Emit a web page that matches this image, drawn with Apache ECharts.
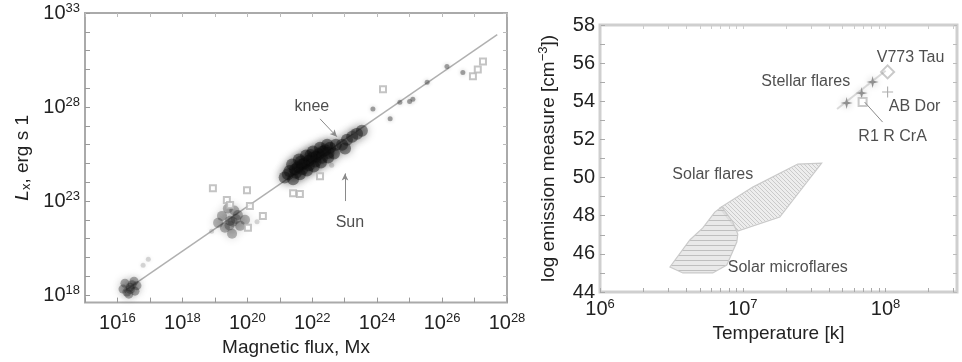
<!DOCTYPE html>
<html><head><meta charset="utf-8">
<script src="https://cdn.jsdelivr.net/npm/echarts@6/dist/echarts.min.js"></script>
<style>html,body{margin:0;padding:0;background:#fff}#c{width:962px;height:362px}</style>
</head><body><div id="c"></div>
<script>
// ---------- Left panel: log10 magnetic flux [Mx] vs log10 Lx [erg/s] ----------
const fluxTicks = [15,16,17,18,19,20,21,22,23,24,25,26,27,28];
const fluxLabels = [16,18,20,22,24,26,28];
const lumTicks = [18,19,20,21,22,23,24,25,26,27,28,29,30,31,32,33];
const lumLabels = [18,23,28,33];
const fitLine = [[16.2,18.2],[27.7,31.85]];
const brightPoints = [[16.39,18.42],[16.23,18.63],[16.54,18.21],[16.29,18.16],[16.51,18.74],[16.17,18.32],[16.45,18.55],[16.35,18.05],[16.60,18.50],[16.40,18.30]];
const faintPoints = [[16.79,19.58],[16.95,19.9],[18.9,21.4],[20.3,21.9],[22.6,24.9]];
const quietSun = [[19.47,21.95],[19.22,22.21],[19.71,22.26],[19.31,21.58],[19.78,21.68],[19.53,21.26],[19.10,21.84],[19.93,22.0],[19.6,22.5],[19.4,22.6],[19.55,21.9],[19.65,22.05],[19.45,21.7]];
const activeRegions = [
  [21.25,24.42],[21.47,24.68],[21.69,24.95],[21.90,25.16],[22.12,25.37],[22.33,25.63],[22.55,25.84],[22.73,26.0],
  [21.38,24.95],[21.59,25.21],[21.81,25.42],[22.02,25.63],[22.24,25.84],[22.46,26.0],
  [21.41,24.16],[21.62,24.42],[21.84,24.63],[22.05,24.84],[22.27,25.05],[22.49,25.32],[22.67,25.53],
  [21.15,24.25],[21.55,24.8],[21.75,25.0],[22.0,25.3],[22.2,25.5],[22.4,25.7],
  [21.3,24.6],[21.5,24.5],[21.7,24.7],[21.9,24.9],[22.1,25.1],[22.3,25.3],[22.5,25.55],[21.65,25.1],[21.95,25.45],
  [22.92,26.0],[23.07,26.26],[23.23,26.42],[23.38,26.58],[23.53,26.74],[23.01,25.79]
];
const openSquares = [[18.94,23.68],[19.99,23.58],[19.37,23.05],[20.08,22.74],[20.48,22.2],[20.02,21.58],[19.47,22.79],[21.41,23.42],[21.62,23.37],[22.24,24.32],[26.95,29.63],[27.26,30.42],[27.1,30.0],[24.18,28.95]];
const starPoints = [[24.7,28.26],[25.1,28.42],[25.0,28.3],[24.4,27.37],[25.54,29.32],[26.15,30.16],[23.87,27.9],[23.26,26.68],[26.64,29.84]];
const kneeArrow = [[22.24,27.37],[22.76,26.42]];
const sunArrow = [[23.01,23.0],[23.01,24.47]];
const leftNotes = [{name:'knee', value:[21.99,28.0]},{name:'Sun', value:[23.16,21.84]}];

// ---------- Right panel: log10 T [K] vs log EM [cm^-3] ----------
const tempTicks = [6,6.301,6.477,6.602,6.699,6.778,6.845,6.903,6.954,7,7.301,7.477,7.602,7.699,7.778,7.845,7.903,7.954,8,8.301,8.477];
const tempLabels = [6,7,8];
const emTicks = [44,45,46,47,48,49,50,51,52,53,54,55,56,57,58];
const emLabels = [44,46,48,50,52,54,56,58];
const solarFlares = [[6.839,48.40],[7.070,49.50],[7.385,50.71],[7.552,50.76],[7.259,47.93],[6.965,47.20]];
const solarMicroflares = [[6.853,48.46],[6.930,47.67],[6.965,47.04],[6.958,46.62],[6.888,45.41],[6.790,45.0],[6.580,45.0],[6.490,45.31],[6.629,46.73],[6.720,47.36],[6.804,48.19]];
const stellarFlares = [[7.727,53.91],[7.832,54.43],[7.909,55.01]];
const v773Tau = [[8.014,55.54]];
const abDor = [[8.014,54.49]];
const r1RCrA = [[7.839,53.96]];
const rcraLine = [[7.853,53.96],[7.979,52.91]];
const stellarTrend = [[7.66,53.6],[8.0,55.6]];
const rightNotes = [{name:'V773 Tau', value:[8.175,56.27]},{name:'Stellar flares', value:[7.441,55.01]},{name:'AB Dor', value:[8.203,53.70]},{name:'R1 R CrA', value:[8.049,52.13]},{name:'Solar flares', value:[6.790,50.13]},{name:'Solar microflares', value:[7.315,45.26]}];

function hatch(kind){
  const c=document.createElement('canvas');
  const s = kind==='diag'?4:5;
  c.width=s;c.height=s;
  const g=c.getContext('2d');
  g.fillStyle = kind==='diag' ? 'rgba(232,232,232,0.8)' : 'rgba(226,226,226,0.75)';
  g.fillRect(0,0,s,s);
  g.strokeStyle = kind==='diag' ? '#c2c2c2' : '#b5b5b5'; g.lineWidth=0.8;
  g.beginPath();
  if(kind==='diag'){g.moveTo(0,0);g.lineTo(s,s);g.moveTo(-1,s-1);g.lineTo(1,s+1);g.moveTo(s-1,-1);g.lineTo(s+1,1);}
  else {g.moveTo(0,0.5);g.lineTo(s,0.5);}
  g.stroke();
  return c;
}
const diagPat = hatch('diag'), horPat = hatch('hor');

const FONT = "'Liberation Sans', Arial, Helvetica, sans-serif";
const TXT = '#222';
const supRich = {s:{fontSize:13, color:TXT, fontFamily:FONT, padding:[0,0,10,0]}};
const pow = v => '10{s|' + v + '}';

function polySeries(arr, pat, z){
  return {type:'custom', xAxisIndex:2, yAxisIndex:2, data:arr, z:z, silent:true,
    renderItem:(p,api)=> p.dataIndex!==0 ? null : ({type:'polygon', shape:{points:arr.map(d=>api.coord(d))},
      style:{fill:{image:pat, repeat:'repeat'}, stroke:'#cacaca', lineWidth:1.2}})};
}

const chart = echarts.init(document.getElementById('c'), null, {renderer:'canvas'});
chart.setOption({
  animation:false,
  textStyle:{fontFamily:FONT, color:TXT},
  grid:[
    {left:85, top:13, width:422, height:293, show:true, borderColor:'#aaa', borderWidth:2, backgroundColor:'#fff'},
    {left:600, top:25, width:357, height:267, show:true, borderColor:'#cfcfcf', borderWidth:3, backgroundColor:'#fff'}
  ],
  xAxis:[
    {gridIndex:0, type:'value', min:15, max:28, axisLine:{show:false}, splitLine:{show:false},
     axisTick:{inside:true, length:5, customValues:fluxTicks, lineStyle:{color:'#999'}},
     axisLabel:{customValues:fluxLabels, formatter:pow, rich:supRich, fontSize:20, color:TXT, margin:9},
     name:'Magnetic flux, Mx', nameLocation:'middle', nameGap:30, nameTextStyle:{fontSize:19, color:TXT}},
    {gridIndex:0, type:'value', position:'top', min:15, max:28, axisLine:{show:false}, splitLine:{show:false},
     axisTick:{inside:true, length:4, customValues:fluxTicks, lineStyle:{color:'#bbb'}}, axisLabel:{show:false}},
    {gridIndex:1, type:'value', min:6, max:8.5, axisLine:{show:false}, splitLine:{show:false},
     axisTick:{inside:true, length:4, customValues:tempTicks, lineStyle:{color:'#aaa'}},
     axisLabel:{customValues:tempLabels, formatter:pow, rich:supRich, fontSize:20, color:TXT, margin:6},
     name:'Temperature [k]', nameLocation:'middle', nameGap:30, nameTextStyle:{fontSize:19, color:TXT}},
    {gridIndex:1, type:'value', position:'top', min:6, max:8.5, axisLine:{show:false}, splitLine:{show:false},
     axisTick:{inside:true, length:4, customValues:tempTicks, lineStyle:{color:'#ccc'}}, axisLabel:{show:false}}
  ],
  yAxis:[
    {gridIndex:0, type:'value', min:17.6, max:33, axisLine:{show:false}, splitLine:{show:false},
     axisTick:{inside:true, length:5, customValues:lumTicks, lineStyle:{color:'#999'}},
     axisLabel:{customValues:lumLabels, formatter:pow, rich:supRich, fontSize:20, color:TXT, margin:5},
     name:'{i|L}{x|x}, erg s 1', nameLocation:'middle', nameGap:52,
     nameTextStyle:{fontSize:19, color:TXT, rich:{i:{fontStyle:'italic', fontSize:19, color:TXT, fontFamily:FONT}, x:{fontSize:13, color:TXT, fontFamily:FONT, padding:[8,0,0,0]}}}},
    {gridIndex:0, type:'value', position:'right', min:17.6, max:33, axisLine:{show:false}, splitLine:{show:false},
     axisTick:{inside:true, length:4, customValues:lumTicks, lineStyle:{color:'#bbb'}}, axisLabel:{show:false}},
    {gridIndex:1, type:'value', min:44, max:58, interval:2, axisLine:{show:false}, splitLine:{show:false},
     axisTick:{inside:true, length:5, customValues:emTicks, lineStyle:{color:'#aaa'}},
     axisLabel:{customValues:emLabels, fontSize:20, color:TXT, margin:5},
     name:'log emission measure [cm{s|\u22123}])', nameLocation:'middle', nameGap:40,
     nameTextStyle:{fontSize:19, color:TXT, rich:{s:{fontSize:13, color:TXT, fontFamily:FONT, padding:[0,0,10,0]}}}},
    {gridIndex:1, type:'value', position:'right', min:44, max:58, axisLine:{show:false}, splitLine:{show:false},
     axisTick:{inside:true, length:4, customValues:emTicks, lineStyle:{color:'#bbb'}}, axisLabel:{show:false}}
  ],
  series:[
    {type:'line', xAxisIndex:0, yAxisIndex:0, data:fitLine, symbol:'none', silent:true,
     lineStyle:{color:'#b0b0b0', width:1.5}, z:1},
    {type:'scatter', xAxisIndex:0, yAxisIndex:0, data:faintPoints, symbolSize:5, silent:true,
     itemStyle:{color:'rgba(120,120,120,0.35)', shadowBlur:4, shadowColor:'rgba(0,0,0,0.3)'}},
    {type:'scatter', xAxisIndex:0, yAxisIndex:0, data:brightPoints, symbolSize:9, silent:true,
     itemStyle:{color:'rgba(40,40,40,0.45)', shadowBlur:8, shadowColor:'rgba(0,0,0,0.5)'}},
    {type:'scatter', xAxisIndex:0, yAxisIndex:0, data:quietSun, symbolSize:10, silent:true,
     itemStyle:{color:'rgba(45,45,45,0.42)', shadowBlur:8, shadowColor:'rgba(0,0,0,0.5)'}},
    {type:'scatter', xAxisIndex:0, yAxisIndex:0, data:activeRegions, symbolSize:12, silent:true,
     itemStyle:{color:'rgba(15,15,15,0.55)', shadowBlur:10, shadowColor:'rgba(0,0,0,0.7)'}},
    {type:'scatter', xAxisIndex:0, yAxisIndex:0, data:openSquares, symbol:'emptyRect', symbolSize:6, silent:true,
     itemStyle:{color:'#b5b5b5', borderColor:'#b5b5b5', borderWidth:1.2}},
    {type:'scatter', xAxisIndex:0, yAxisIndex:0, data:starPoints, symbolSize:5, silent:true,
     itemStyle:{color:'rgba(70,70,70,0.6)', shadowBlur:4, shadowColor:'rgba(0,0,0,0.4)'}},
    {type:'scatter', xAxisIndex:0, yAxisIndex:0, data:leftNotes, symbolSize:0, silent:true,
     label:{show:true, formatter:'{b}', position:'inside', fontSize:16, color:TXT},
     markLine:{silent:true, symbol:['none','arrow'], symbolSize:[5,7], label:{show:false},
       lineStyle:{color:'#8a8a8a', width:1, type:'solid'},
       data:[[{coord:kneeArrow[0]},{coord:kneeArrow[1]}],[{coord:sunArrow[0]},{coord:sunArrow[1]}]]}},
    polySeries(solarFlares, diagPat, 2),
    polySeries(solarMicroflares, horPat, 3),
    {type:'line', xAxisIndex:2, yAxisIndex:2, data:stellarTrend, symbol:'none', silent:true,
     lineStyle:{color:'rgba(150,150,150,0.35)', width:2}},
    {type:'line', xAxisIndex:2, yAxisIndex:2, data:rcraLine, symbol:'none', silent:true,
     lineStyle:{color:'#8a8a8a', width:1}},
    {type:'scatter', xAxisIndex:2, yAxisIndex:2, data:stellarFlares, silent:true,
     symbol:'path://M0,-10 L2,-2 L10,0 L2,2 L0,10 L-2,2 L-10,0 L-2,-2Z', symbolSize:12,
     itemStyle:{color:'rgba(70,70,70,0.7)', shadowBlur:7, shadowColor:'rgba(0,0,0,0.5)'}},
    {type:'scatter', xAxisIndex:2, yAxisIndex:2, data:v773Tau, symbol:'emptyDiamond', symbolSize:13, silent:true,
     itemStyle:{color:'#bbb', borderColor:'#bbb', borderWidth:1.3}},
    {type:'scatter', xAxisIndex:2, yAxisIndex:2, data:abDor, silent:true,
     symbol:'path://M-1,-10 L1,-10 L1,-1 L10,-1 L10,1 L1,1 L1,10 L-1,10 L-1,1 L-10,1 L-10,-1 L-1,-1Z', symbolSize:11,
     itemStyle:{color:'#999'}},
    {type:'scatter', xAxisIndex:2, yAxisIndex:2, data:r1RCrA, symbol:'emptyRect', symbolSize:8, silent:true,
     itemStyle:{color:'#bbb', borderColor:'#bbb', borderWidth:1.2}},
    {type:'scatter', xAxisIndex:2, yAxisIndex:2, data:rightNotes, symbolSize:0, silent:true,
     label:{show:true, formatter:'{b}', position:'inside', fontSize:16, color:TXT}}
  ]
});
</script>
</body></html>
